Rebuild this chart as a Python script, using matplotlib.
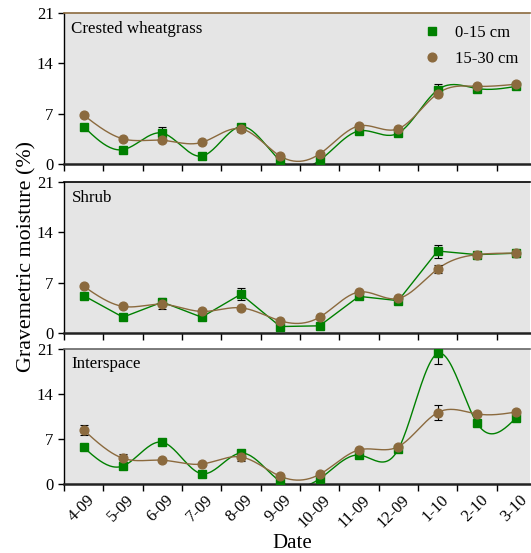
import numpy as np
import matplotlib
matplotlib.use("Agg")
import matplotlib.pyplot as plt

plt.rcParams["font.family"] = ["Liberation Serif", "DejaVu Serif"]

dates = ["4-09", "5-09", "6-09", "7-09", "8-09", "9-09", "10-09",
         "11-09", "12-09", "1-10", "2-10", "3-10"]

# Crested wheatgrass (error bars hidden behind markers are set to 0)
cw_0_15 = [5.2, 2.0, 4.3, 1.1, 5.2, 0.5, 0.5, 4.6, 4.3, 10.3, 10.5, 10.8]
cw_0_15_err = [0, 0, 0.8, 0, 0, 0, 0, 0, 0, 0.8, 0, 0]
cw_15_30 = [6.8, 3.5, 3.3, 3.0, 4.9, 1.1, 1.4, 5.3, 4.9, 9.8, 10.8, 11.1]
cw_15_30_err = [0, 0, 0, 0, 0.5, 0, 0, 0, 0, 0.4, 0, 0]

# Shrub
sh_0_15 = [5.2, 2.2, 4.3, 2.2, 5.4, 0.9, 1.0, 5.1, 4.5, 11.4, 10.9, 11.1]
sh_0_15_err = [0, 0, 0.6, 0, 0.8, 0, 0, 0, 0, 0.9, 0, 0.5]
sh_15_30 = [6.5, 3.7, 4.0, 3.0, 3.5, 1.7, 2.2, 5.7, 4.8, 8.9, 10.9, 11.1]
sh_15_30_err = [0, 0, 0.7, 0, 0, 0, 0, 0, 0, 0.6, 0, 0.5]

# Interspace
in_0_15 = [5.7, 2.8, 6.5, 1.6, 4.8, 0.4, 0.8, 4.5, 5.4, 20.3, 9.5, 10.3]
in_0_15_err = [0, 0, 0, 0, 0, 0, 0, 0, 0, 1.6, 0, 0]
in_15_30 = [8.4, 4.0, 3.7, 3.1, 4.2, 1.2, 1.5, 5.3, 5.8, 11.1, 10.9, 11.2]
in_15_30_err = [0.8, 0.6, 0, 0, 0.6, 0, 0, 0, 0, 1.2, 0, 0]

GREEN = "#008000"
BROWN = "#8b6a3e"
BG = "#e5e5e5"


def smooth(x, y, n=24):
    # natural cubic spline through the points (equal spacing)
    x = np.asarray(x, float)
    y = np.asarray(y, float)
    k = len(y)
    A = np.zeros((k, k))
    r = np.zeros(k)
    A[0, 0] = A[-1, -1] = 1.0
    for i in range(1, k - 1):
        A[i, i - 1], A[i, i], A[i, i + 1] = 1.0, 4.0, 1.0
        r[i] = 6 * (y[i + 1] - 2 * y[i] + y[i - 1])
    M = np.linalg.solve(A, r)
    t = np.linspace(0, 1, n, endpoint=False)
    xs, ys = [], []
    for i in range(k - 1):
        h = x[i + 1] - x[i]
        s = ((1 - t) * y[i] + t * y[i + 1]
             + ((1 - t) ** 3 - (1 - t)) * M[i] * h * h / 6
             + (t ** 3 - t) * M[i + 1] * h * h / 6)
        xs.append(x[i] + t * h)
        ys.append(s)
    xs.append([x[-1]])
    ys.append([y[-1]])
    return np.concatenate(xs), np.concatenate(ys)


def draw_err(ax, x, y, err):
    y = np.asarray(y, float)
    err = np.asarray(err, float)
    keep = err > 0
    if keep.any():
        ax.errorbar(x[keep], y[keep], yerr=err[keep], fmt="none", ecolor="black",
                    elinewidth=0.8, capsize=3, capthick=0.8, zorder=3)


panels = [
    ("Crested wheatgrass", cw_0_15, cw_0_15_err, cw_15_30, cw_15_30_err, True, True, BROWN),
    ("Shrub", sh_0_15, sh_0_15_err, sh_15_30, sh_15_30_err, False, True, "black"),
    ("Interspace", in_0_15, in_0_15_err, in_15_30, in_15_30_err, True, True, "#666666"),
]

fig = plt.figure(figsize=(5.31, 5.53), dpi=100)
rects = [
    [0.1205, 0.7034, 0.8776, 0.2731],
    [0.1205, 0.3978, 0.8776, 0.2731],
    [0.1205, 0.1248, 0.8776, 0.2441],
]

x = np.arange(len(dates))
for rect, (name, g, ge, b, be, g_smooth, b_smooth, topcol) in zip(rects, panels):
    ax = fig.add_axes(rect)
    ax.set_facecolor(BG)

    gx, gy = smooth(x, g) if g_smooth else (x, np.asarray(g))
    bx, by = smooth(x, b) if b_smooth else (x, np.asarray(b))
    ax.plot(gx, gy, color=GREEN, lw=1.0, zorder=2)
    ax.plot(bx, by, color=BROWN, lw=1.0, zorder=2)
    draw_err(ax, x, g, ge)
    draw_err(ax, x, b, be)
    ax.plot(x, g, ls="none", marker="s", ms=5.8, color=GREEN, mec=GREEN,
            label="0-15 cm", zorder=4)
    ax.plot(x, b, ls="none", marker="o", ms=6.3, color=BROWN, mec=BROWN,
            label="15-30 cm", zorder=4)

    ax.set_xlim(-0.5, 11.35)
    ax.set_ylim(0, 21)
    ax.set_yticks([0, 7, 14, 21])
    ax.tick_params(axis="y", labelsize=12, direction="out", length=4, width=1)
    ax.set_xticks(np.arange(-0.5, 11.5, 1.0))
    ax.tick_params(axis="x", direction="out", length=5, width=1, labelbottom=False)
    ax.text(0.016, 0.945, name, transform=ax.transAxes, fontsize=12.2,
            va="top", ha="left")

    ax.spines["right"].set_visible(False)
    ax.spines["top"].set_color(topcol)
    ax.spines["top"].set_linewidth(1.2)
    ax.spines["bottom"].set_linewidth(1.8)
    ax.spines["bottom"].set_color("#222222")
    ax.spines["left"].set_linewidth(1.0)

    if name == "Crested wheatgrass":
        ax.legend(loc="upper right", frameon=False, fontsize=12,
                  handletextpad=0.4, labelspacing=0.6, borderaxespad=0.3,
                  bbox_to_anchor=(1.0, 1.0))
    if name == "Interspace":
        for xi, lab in zip(x, dates):
            ax.text(xi + 0.08, -1.3, lab, rotation=45, ha="right", va="top",
                    rotation_mode="anchor", fontsize=12)

fig.text(292 / 531, 1 - 548 / 553, "Date", ha="center", va="baseline",
         fontsize=15)
fig.text(0.051, 0.537, "Gravemetric moisture (%)", rotation=90, ha="center",
         va="center", fontsize=15.8)

fig.savefig("out.png", dpi=100)
